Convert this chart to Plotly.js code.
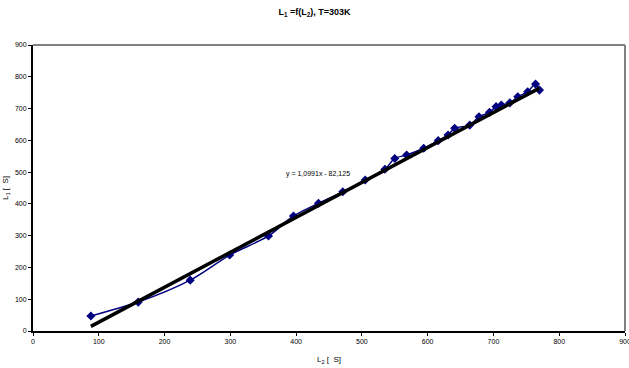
<!DOCTYPE html>
<html>
<head>
<meta charset="utf-8">
<script src="https://cdn.plot.ly/plotly-3.0.1.min.js"></script>
<style>html,body{margin:0;padding:0;background:#fff;}#chart{width:629px;height:368px;}</style>
</head>
<body>
<div id="chart"></div>
<script>
// Data
const L2 = [88, 160, 239, 299, 358, 396, 434, 471, 505, 535, 550, 568, 594, 616, 631, 641, 664, 678, 694, 704, 712, 725, 737, 752, 764, 770];
const L1 = [47, 91, 160, 239, 299, 362, 402, 438, 475, 509, 543, 554, 575, 599, 617, 638, 648, 674, 688, 706, 711, 718, 737, 753, 777, 758];
const slope = 1.0991;
const intercept = -82.125;
const tickVals = [0, 100, 200, 300, 400, 500, 600, 700, 800, 900];

const xMin = Math.min(...L2), xMax = Math.max(...L2);
const trendX = [xMin, xMax];
const trendY = trendX.map(x => slope * x + intercept);

const font = "Liberation Sans, Arial, sans-serif";

const traces = [
  {
    x: L2, y: L1, type: 'scatter', mode: 'lines+markers',
    line: {color: '#000080', width: 1.5, shape: 'spline', smoothing: 0.8},
    marker: {symbol: 'diamond', size: 7, color: '#000080'},
    hoverinfo: 'skip'
  },
  {
    x: trendX, y: trendY, type: 'scatter', mode: 'lines',
    line: {color: '#000000', width: 3.5},
    hoverinfo: 'skip'
  }
];

const layout = {
  width: 629, height: 368,
  margin: {l: 33, r: 4, t: 45, b: 37},
  paper_bgcolor: '#ffffff', plot_bgcolor: '#ffffff',
  showlegend: false,
  font: {family: font, color: '#000', size: 7},
  title: {text: '<b>L<sub>1</sub> =f(L<sub>2</sub>), T=303K</b>', x: 0.5, xanchor: 'center', y: 0.967, yanchor: 'middle', font: {family: font, size: 9, color: '#000'}},
  xaxis: {
    range: [0, 900], tickvals: tickVals, ticktext: tickVals.map(String),
    showgrid: false, zeroline: false, showline: true, linecolor: '#000', linewidth: 2,
    ticks: 'outside', ticklen: 3, tickcolor: '#000', tickwidth: 1,
    ticklabeloverflow: 'allow',
    tickfont: {family: font, size: 7, color: '#000'},
    title: {text: 'L<sub>2</sub> [  S]', font: {family: font, size: 8, color: '#000'}, standoff: 12}
  },
  yaxis: {
    range: [0, 900], tickvals: tickVals, ticktext: tickVals.map(String),
    showgrid: false, zeroline: false, showline: true, linecolor: '#000', linewidth: 2,
    ticks: 'outside', ticklen: 3, tickcolor: '#000', tickwidth: 1,
    ticklabeloverflow: 'allow',
    tickfont: {family: font, size: 7, color: '#000'},
    title: {text: 'L<sub>1</sub> [  S]', font: {family: font, size: 8, color: '#000'}, standoff: 5}
  },
  shapes: [
    {type: 'line', xref: 'paper', yref: 'paper', x0: 0, x1: 1, y0: 1, y1: 1, line: {color: '#808080', width: 2}, layer: 'below'},
    {type: 'line', xref: 'paper', yref: 'paper', x0: 1, x1: 1, y0: 0, y1: 1, line: {color: '#808080', width: 2}, layer: 'below'}
  ],
  annotations: [
    {x: 433, y: 494, xref: 'x', yref: 'y', text: 'y = 1,0991x - 82,125', showarrow: false, font: {family: font, size: 7, color: '#000'}}
  ]
};

Plotly.newPlot('chart', traces, layout, {staticPlot: true, displayModeBar: false});
</script>
</body>
</html>
